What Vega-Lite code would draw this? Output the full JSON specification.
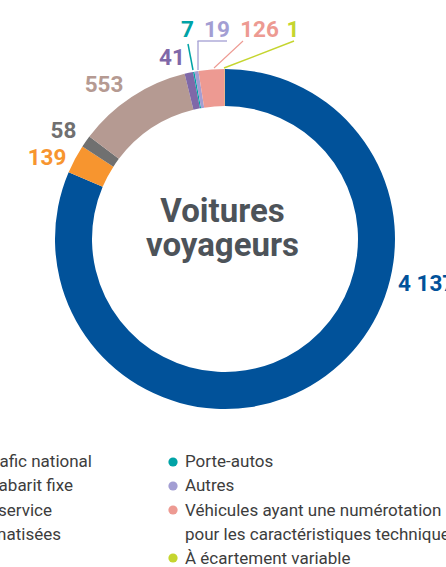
{
  "$schema": "https://vega.github.io/schema/vega-lite/v6.json",
  "width": 446,
  "height": 567,
  "padding": 0,
  "autosize": {"type": "none"},
  "background": "white",
  "config": {
    "view": {"stroke": null},
    "locale": {"number": {"decimal": ",", "thousands": " ", "grouping": [3], "currency": ["", " €"]}},
    "text": {"font": "Roboto"}
  },
  "data": {
    "values": [
      {"n": 1, "category": "Voitures de trafic national", "value": 4137},
      {"n": 2, "category": "Trafic international à gabarit fixe", "value": 139},
      {"n": 3, "category": "Voitures de service", "value": 58},
      {"n": 4, "category": "Voitures climatisées", "value": 553},
      {"n": 5, "category": "Voitures spéciales", "value": 41},
      {"n": 6, "category": "Porte-autos", "value": 7},
      {"n": 7, "category": "Autres", "value": 19},
      {"n": 8, "category": "Véhicules ayant une numérotation pour les caractéristiques techniques", "value": 126},
      {"n": 9, "category": "À écartement variable", "value": 1}
    ]
  },
  "layer": [
    {
      "mark": {"type": "arc", "radius": 170, "radius2": 133},
      "encoding": {
        "theta": {"field": "value", "type": "quantitative", "stack": true},
        "order": {"field": "n", "type": "quantitative"},
        "color": {"field": "category", "type": "nominal", "legend": null,
          "scale": {
            "domain": ["Voitures de trafic national", "Trafic international à gabarit fixe", "Voitures de service", "Voitures climatisées", "Voitures spéciales", "Porte-autos", "Autres", "Véhicules ayant une numérotation pour les caractéristiques techniques", "À écartement variable"],
            "range": ["#01529a", "#f7952f", "#707070", "#b59a92", "#7f68a8", "#00a3a6", "#a39ed3", "#ed9a92", "#c5d52f"]
          }},
        "x": {"datum": 0, "type": "quantitative", "scale": {"domain": [-225, 221], "nice": false, "zero": false}, "axis": null},
        "y": {"datum": 0, "type": "quantitative", "scale": {"domain": [-239, 328], "reverse": true, "nice": false, "zero": false}, "axis": null}
      }
    },
    {
      "transform": [{"filter": "datum.n == 1"}],
      "mark": {"type": "text", "font": "Roboto", "fontWeight": "bold", "fontSize": 33, "align": "center", "baseline": "alphabetic", "lineHeight": 34, "color": "#4d5359"},
      "encoding": {
        "text": {"value": ["Voitures", "voyageurs"]},
        "x": {"datum": -2.5, "type": "quantitative", "scale": {"domain": [-225, 221], "nice": false, "zero": false}, "axis": null},
        "y": {"datum": -17, "type": "quantitative", "scale": {"domain": [-239, 328], "reverse": true, "nice": false, "zero": false}, "axis": null}
      }
    },
    {
      "transform": [{"filter": "datum.n == 1"}],
      "mark": {"type": "text", "fontWeight": "bold", "fontSize": 22.5, "align": "left", "baseline": "alphabetic"},
      "encoding": {
        "text": {"field": "value", "type": "quantitative", "format": ",d"},
        "color": {"field": "category", "type": "nominal", "legend": null},
        "x": {"datum": 173, "type": "quantitative", "scale": {"domain": [-225, 221], "nice": false, "zero": false}, "axis": null},
        "y": {"datum": 52, "type": "quantitative", "scale": {"domain": [-239, 328], "reverse": true, "nice": false, "zero": false}, "axis": null}
      }
    },
    {
      "transform": [{"filter": "datum.n == 2"}],
      "mark": {"type": "text", "fontWeight": "bold", "fontSize": 22.5, "align": "center", "baseline": "alphabetic"},
      "encoding": {
        "text": {"field": "value", "type": "quantitative", "format": ",d"},
        "color": {"field": "category", "type": "nominal", "legend": null},
        "x": {"datum": -178, "type": "quantitative", "scale": {"domain": [-225, 221], "nice": false, "zero": false}, "axis": null},
        "y": {"datum": -74, "type": "quantitative", "scale": {"domain": [-239, 328], "reverse": true, "nice": false, "zero": false}, "axis": null}
      }
    },
    {
      "transform": [{"filter": "datum.n == 3"}],
      "mark": {"type": "text", "fontWeight": "bold", "fontSize": 22.5, "align": "center", "baseline": "alphabetic"},
      "encoding": {
        "text": {"field": "value", "type": "quantitative", "format": ",d"},
        "color": {"field": "category", "type": "nominal", "legend": null},
        "x": {"datum": -161.5, "type": "quantitative", "scale": {"domain": [-225, 221], "nice": false, "zero": false}, "axis": null},
        "y": {"datum": -101, "type": "quantitative", "scale": {"domain": [-239, 328], "reverse": true, "nice": false, "zero": false}, "axis": null}
      }
    },
    {
      "transform": [{"filter": "datum.n == 4"}],
      "mark": {"type": "text", "fontWeight": "bold", "fontSize": 22.5, "align": "center", "baseline": "alphabetic"},
      "encoding": {
        "text": {"field": "value", "type": "quantitative", "format": ",d"},
        "color": {"field": "category", "type": "nominal", "legend": null},
        "x": {"datum": -121, "type": "quantitative", "scale": {"domain": [-225, 221], "nice": false, "zero": false}, "axis": null},
        "y": {"datum": -147, "type": "quantitative", "scale": {"domain": [-239, 328], "reverse": true, "nice": false, "zero": false}, "axis": null}
      }
    },
    {
      "transform": [{"filter": "datum.n == 5"}],
      "mark": {"type": "text", "fontWeight": "bold", "fontSize": 22.5, "align": "center", "baseline": "alphabetic"},
      "encoding": {
        "text": {"field": "value", "type": "quantitative", "format": ",d"},
        "color": {"field": "category", "type": "nominal", "legend": null},
        "x": {"datum": -53, "type": "quantitative", "scale": {"domain": [-225, 221], "nice": false, "zero": false}, "axis": null},
        "y": {"datum": -174, "type": "quantitative", "scale": {"domain": [-239, 328], "reverse": true, "nice": false, "zero": false}, "axis": null}
      }
    },
    {
      "transform": [{"filter": "datum.n == 6"}],
      "mark": {"type": "text", "fontWeight": "bold", "fontSize": 22.5, "align": "center", "baseline": "alphabetic"},
      "encoding": {
        "text": {"field": "value", "type": "quantitative", "format": ",d"},
        "color": {"field": "category", "type": "nominal", "legend": null},
        "x": {"datum": -37.5, "type": "quantitative", "scale": {"domain": [-225, 221], "nice": false, "zero": false}, "axis": null},
        "y": {"datum": -202, "type": "quantitative", "scale": {"domain": [-239, 328], "reverse": true, "nice": false, "zero": false}, "axis": null}
      }
    },
    {
      "transform": [{"filter": "datum.n == 7"}],
      "mark": {"type": "text", "fontWeight": "bold", "fontSize": 22.5, "align": "center", "baseline": "alphabetic"},
      "encoding": {
        "text": {"field": "value", "type": "quantitative", "format": ",d"},
        "color": {"field": "category", "type": "nominal", "legend": null},
        "x": {"datum": -8, "type": "quantitative", "scale": {"domain": [-225, 221], "nice": false, "zero": false}, "axis": null},
        "y": {"datum": -202, "type": "quantitative", "scale": {"domain": [-239, 328], "reverse": true, "nice": false, "zero": false}, "axis": null}
      }
    },
    {
      "transform": [{"filter": "datum.n == 8"}],
      "mark": {"type": "text", "fontWeight": "bold", "fontSize": 22.5, "align": "center", "baseline": "alphabetic"},
      "encoding": {
        "text": {"field": "value", "type": "quantitative", "format": ",d"},
        "color": {"field": "category", "type": "nominal", "legend": null},
        "x": {"datum": 34.5, "type": "quantitative", "scale": {"domain": [-225, 221], "nice": false, "zero": false}, "axis": null},
        "y": {"datum": -202, "type": "quantitative", "scale": {"domain": [-239, 328], "reverse": true, "nice": false, "zero": false}, "axis": null}
      }
    },
    {
      "transform": [{"filter": "datum.n == 9"}],
      "mark": {"type": "text", "fontWeight": "bold", "fontSize": 22.5, "align": "center", "baseline": "alphabetic"},
      "encoding": {
        "text": {"field": "value", "type": "quantitative", "format": ",d"},
        "color": {"field": "category", "type": "nominal", "legend": null},
        "x": {"datum": 68, "type": "quantitative", "scale": {"domain": [-225, 221], "nice": false, "zero": false}, "axis": null},
        "y": {"datum": -202, "type": "quantitative", "scale": {"domain": [-239, 328], "reverse": true, "nice": false, "zero": false}, "axis": null}
      }
    },
    {
      "transform": [{"filter": "datum.n == 6"}],
      "mark": {"type": "rule", "strokeWidth": 1.5},
      "encoding": {
        "color": {"field": "category", "type": "nominal", "legend": null},
        "x": {"datum": -37, "type": "quantitative", "scale": {"domain": [-225, 221], "nice": false, "zero": false}, "axis": null},
        "x2": {"datum": -32},
        "y": {"datum": -195, "type": "quantitative", "scale": {"domain": [-239, 328], "reverse": true, "nice": false, "zero": false}, "axis": null},
        "y2": {"datum": -169}
      }
    },
    {
      "transform": [{"filter": "datum.n == 7"}],
      "mark": {"type": "rule", "strokeWidth": 1.3},
      "encoding": {
        "color": {"field": "category", "type": "nominal", "legend": null},
        "x": {"datum": -27.5, "type": "quantitative", "scale": {"domain": [-225, 221], "nice": false, "zero": false}, "axis": null},
        "x2": {"datum": 2},
        "y": {"datum": -198, "type": "quantitative", "scale": {"domain": [-239, 328], "reverse": true, "nice": false, "zero": false}, "axis": null}
      }
    },
    {
      "transform": [{"filter": "datum.n == 7"}],
      "mark": {"type": "rule", "strokeWidth": 1.3},
      "encoding": {
        "color": {"field": "category", "type": "nominal", "legend": null},
        "x": {"datum": -27, "type": "quantitative", "scale": {"domain": [-225, 221], "nice": false, "zero": false}, "axis": null},
        "y": {"datum": -198, "type": "quantitative", "scale": {"domain": [-239, 328], "reverse": true, "nice": false, "zero": false}, "axis": null},
        "y2": {"datum": -169}
      }
    },
    {
      "transform": [{"filter": "datum.n == 8"}],
      "mark": {"type": "rule", "strokeWidth": 1.1},
      "encoding": {
        "color": {"field": "category", "type": "nominal", "legend": null},
        "x": {"datum": 18, "type": "quantitative", "scale": {"domain": [-225, 221], "nice": false, "zero": false}, "axis": null},
        "x2": {"datum": -11},
        "y": {"datum": -198, "type": "quantitative", "scale": {"domain": [-239, 328], "reverse": true, "nice": false, "zero": false}, "axis": null},
        "y2": {"datum": -171}
      }
    },
    {
      "transform": [{"filter": "datum.n == 9"}],
      "mark": {"type": "rule", "strokeWidth": 1.4},
      "encoding": {
        "color": {"field": "category", "type": "nominal", "legend": null},
        "x": {"datum": 69, "type": "quantitative", "scale": {"domain": [-225, 221], "nice": false, "zero": false}, "axis": null},
        "x2": {"datum": -1},
        "y": {"datum": -198, "type": "quantitative", "scale": {"domain": [-239, 328], "reverse": true, "nice": false, "zero": false}, "axis": null},
        "y2": {"datum": -171}
      }
    },
    {
      "transform": [{"filter": "datum.n == 1"}],
      "mark": {"type": "text", "fontSize": 17, "align": "left", "baseline": "alphabetic", "lineHeight": 24.3, "color": "#3d3d3d"},
      "encoding": {
        "text": {"value": ["Porte-autos", "Autres", "Véhicules ayant une numérotation", "pour les caractéristiques techniques", "À écartement variable"]},
        "x": {"datum": -40, "type": "quantitative", "scale": {"domain": [-225, 221], "nice": false, "zero": false}, "axis": null},
        "y": {"datum": 228, "type": "quantitative", "scale": {"domain": [-239, 328], "reverse": true, "nice": false, "zero": false}, "axis": null}
      }
    },
    {
      "transform": [{"filter": "datum.n == 1"}],
      "mark": {"type": "text", "fontSize": 17, "align": "right", "baseline": "alphabetic", "color": "#3d3d3d"},
      "encoding": {
        "text": {"field": "category", "type": "nominal"},
        "x": {"datum": -133, "type": "quantitative", "scale": {"domain": [-225, 221], "nice": false, "zero": false}, "axis": null},
        "y": {"datum": 228, "type": "quantitative", "scale": {"domain": [-239, 328], "reverse": true, "nice": false, "zero": false}, "axis": null}
      }
    },
    {
      "transform": [{"filter": "datum.n == 2"}],
      "mark": {"type": "text", "fontSize": 17, "align": "right", "baseline": "alphabetic", "color": "#3d3d3d"},
      "encoding": {
        "text": {"field": "category", "type": "nominal"},
        "x": {"datum": -152, "type": "quantitative", "scale": {"domain": [-225, 221], "nice": false, "zero": false}, "axis": null},
        "y": {"datum": 252.3, "type": "quantitative", "scale": {"domain": [-239, 328], "reverse": true, "nice": false, "zero": false}, "axis": null}
      }
    },
    {
      "transform": [{"filter": "datum.n == 3"}],
      "mark": {"type": "text", "fontSize": 17, "align": "right", "baseline": "alphabetic", "color": "#3d3d3d"},
      "encoding": {
        "text": {"field": "category", "type": "nominal"},
        "x": {"datum": -173, "type": "quantitative", "scale": {"domain": [-225, 221], "nice": false, "zero": false}, "axis": null},
        "y": {"datum": 276.6, "type": "quantitative", "scale": {"domain": [-239, 328], "reverse": true, "nice": false, "zero": false}, "axis": null}
      }
    },
    {
      "transform": [{"filter": "datum.n == 4"}],
      "mark": {"type": "text", "fontSize": 17, "align": "right", "baseline": "alphabetic", "color": "#3d3d3d"},
      "encoding": {
        "text": {"field": "category", "type": "nominal"},
        "x": {"datum": -164, "type": "quantitative", "scale": {"domain": [-225, 221], "nice": false, "zero": false}, "axis": null},
        "y": {"datum": 300.9, "type": "quantitative", "scale": {"domain": [-239, 328], "reverse": true, "nice": false, "zero": false}, "axis": null}
      }
    },
    {
      "transform": [{"filter": "datum.n == 6"}],
      "mark": {"type": "point", "filled": true, "opacity": 1, "size": 85, "shape": "circle"},
      "encoding": {
        "color": {"field": "category", "type": "nominal", "legend": null},
        "x": {"datum": -52, "type": "quantitative", "scale": {"domain": [-225, 221], "nice": false, "zero": false}, "axis": null},
        "y": {"datum": 223, "type": "quantitative", "scale": {"domain": [-239, 328], "reverse": true, "nice": false, "zero": false}, "axis": null}
      }
    },
    {
      "transform": [{"filter": "datum.n == 7"}],
      "mark": {"type": "point", "filled": true, "opacity": 1, "size": 85, "shape": "circle"},
      "encoding": {
        "color": {"field": "category", "type": "nominal", "legend": null},
        "x": {"datum": -52, "type": "quantitative", "scale": {"domain": [-225, 221], "nice": false, "zero": false}, "axis": null},
        "y": {"datum": 247, "type": "quantitative", "scale": {"domain": [-239, 328], "reverse": true, "nice": false, "zero": false}, "axis": null}
      }
    },
    {
      "transform": [{"filter": "datum.n == 8"}],
      "mark": {"type": "point", "filled": true, "opacity": 1, "size": 85, "shape": "circle"},
      "encoding": {
        "color": {"field": "category", "type": "nominal", "legend": null},
        "x": {"datum": -52, "type": "quantitative", "scale": {"domain": [-225, 221], "nice": false, "zero": false}, "axis": null},
        "y": {"datum": 271, "type": "quantitative", "scale": {"domain": [-239, 328], "reverse": true, "nice": false, "zero": false}, "axis": null}
      }
    },
    {
      "transform": [{"filter": "datum.n == 9"}],
      "mark": {"type": "point", "filled": true, "opacity": 1, "size": 85, "shape": "circle"},
      "encoding": {
        "color": {"field": "category", "type": "nominal", "legend": null},
        "x": {"datum": -52, "type": "quantitative", "scale": {"domain": [-225, 221], "nice": false, "zero": false}, "axis": null},
        "y": {"datum": 319, "type": "quantitative", "scale": {"domain": [-239, 328], "reverse": true, "nice": false, "zero": false}, "axis": null}
      }
    }
  ]
}
